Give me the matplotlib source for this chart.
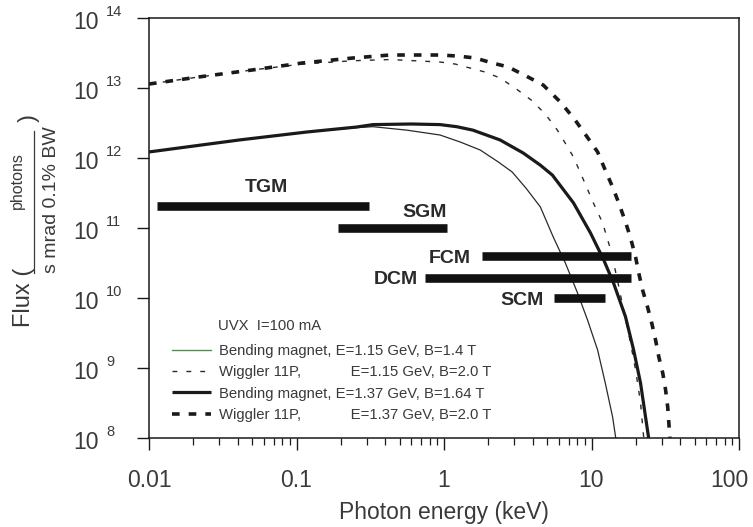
import matplotlib
matplotlib.use("Agg")
import matplotlib.pyplot as plt
import matplotlib.transforms as mtransforms
from matplotlib.lines import Line2D
from matplotlib.ticker import NullLocator, LogLocator, NullFormatter

plt.rcParams['font.family'] = ['Liberation Sans', 'DejaVu Sans']
plt.rcParams['lines.scale_dashes'] = False

# ---------------- data ----------------
# Bending magnet, E=1.15 GeV, B=1.4 T
bm115_E = [0.01, 0.041, 0.117, 0.256, 0.33, 0.56, 0.94, 1.29, 1.76, 2.33, 2.90, 3.6, 4.50,
           5.51, 6.65, 8.04, 9.40, 11.0, 12.4, 13.9, 14.6]
bm115_F = [1.22e12, 1.81e12, 2.35e12, 2.72e12, 2.8e12, 2.5e12, 2.13e12, 1.69e12, 1.3e12, 8.8e11,
           6.3e11, 3.7e11, 2.0e11, 7.4e10, 3.16e10, 1.18e10, 4.85e9, 1.81e9, 6.1e8, 2.0e8, 1.0e8]

# Wiggler 11P, E=1.15 GeV, B=2.0 T
w115_E = [0.01, 0.0219, 0.0502, 0.110, 0.24, 0.43, 0.94, 1.19, 1.50, 1.90, 2.40, 3.09, 3.91,
          4.86, 5.87, 6.76, 7.55, 8.83, 10.3, 11.9, 13.5, 15.0, 16.5, 18.4, 19.9, 21.5, 22.6]
w115_F = [1.14e13, 1.44e13, 1.81e13, 2.2e13, 2.45e13, 2.55e13, 2.35e13, 2.2e13, 1.93e13, 1.69e13,
          1.39e13, 9.7e12, 6.7e12, 4.25e12, 2.5e12, 1.53e12, 1.03e12, 4.85e11, 2.28e11, 1.18e11,
          4.85e10, 1.8e10, 6.7e9, 2.28e9, 9.4e8, 3.2e8, 1.0e8]

# Bending magnet, E=1.37 GeV, B=1.64 T
bm137_E = [0.01, 0.041, 0.117, 0.256, 0.33, 0.6, 0.94, 1.22, 1.57, 2.40, 3.44, 4.50, 5.43, 7.55,
           9.84, 12.1, 14.1, 17.0, 19.3, 21.5, 24.4]
bm137_F = [1.22e12, 1.81e12, 2.35e12, 2.77e12, 3.0e12, 3.06e12, 3.0e12, 2.8e12, 2.5e12, 1.81e12,
           1.18e12, 7.9e11, 5.7e11, 2.28e11, 8.5e10, 3.5e10, 1.64e10, 5.4e9, 1.81e9, 6.1e8, 1.0e8]

# Wiggler 11P, E=1.37 GeV, B=2.0 T
w137_E = [0.01, 0.0219, 0.0502, 0.110, 0.240, 0.43, 0.94, 1.24, 1.63, 2.12, 2.72, 3.61, 4.71,
          6.15, 7.66, 9.25, 11.0, 12.4, 13.9, 15.3, 17.0, 18.4, 19.9, 20.9, 22.2, 24.0, 25.6,
          27.2, 28.6, 30.4, 31.8, 32.9, 34.0]
w137_F = [1.14e13, 1.44e13, 1.81e13, 2.28e13, 2.68e13, 2.96e13, 2.96e13, 2.86e13, 2.68e13,
          2.28e13, 2.0e13, 1.48e13, 1.1e13, 6.3e12, 3.6e12, 2.06e12, 1.22e12, 6.7e11, 3.85e11,
          2.28e11, 1.22e11, 7.2e10, 3.85e10, 2.28e10, 1.3e10, 7.4e9, 4.4e9, 2.5e9, 1.44e9,
          8.5e8, 4.85e8, 2.7e8, 1.0e8]

# Monochromator ranges
mono_names = ["TGM", "SGM", "FCM", "DCM", "SCM"]
mono_emin = [0.0113, 0.19, 1.82, 0.74, 5.6]
mono_emax = [0.31, 1.05, 18.4, 18.4, 12.4]
mono_level = [2.06e11, 1.0e11, 4.0e10, 1.93e10, 1.0e10]

legend_labels = ["Bending magnet, E=1.15 GeV, B=1.4 T",
                 "Wiggler 11P,            E=1.15 GeV, B=2.0 T",
                 "Bending magnet, E=1.37 GeV, B=1.64 T",
                 "Wiggler 11P,            E=1.37 GeV, B=2.0 T"]
legend_title = "UVX  I=100 mA"

xtick_vals = [0.01, 0.1, 1, 10, 100]
xtick_labels = ["0.01", "0.1", "1", "10", "100"]
ytick_exps = [8, 9, 10, 11, 12, 13, 14]

# ---------------- figure ----------------
W, H = 753, 527
fig = plt.figure(figsize=(W / 100, H / 100), dpi=100)
ax = fig.add_axes([149 / W, (H - 438) / H, 590 / W, 420 / H])
ax.set_xscale('log')
ax.set_yscale('log')
ax.set_xlim(0.01, 100)
ax.set_ylim(1e8, 1e14)

ink = '#1a1a1a'
txt = '#3a3a3a'

l1, = ax.plot(bm115_E, bm115_F, color='#2a2a2a', lw=0.9)
l2, = ax.plot(w115_E, w115_F, color='#2a2a2a', lw=1.0, dashes=(3.5, 6.5))
l3, = ax.plot(bm137_E, bm137_F, color=ink, lw=2.3, solid_capstyle='butt')
l4, = ax.plot(w137_E, w137_F, color=ink, lw=2.6, dashes=(5.5, 6.5))

for name, e0, e1, lev in zip(mono_names, mono_emin, mono_emax, mono_level):
    ax.plot([e0, e1], [lev, lev], color='#111111', lw=6.2, solid_capstyle='butt')

lab_kw = dict(fontsize=14, fontweight='bold', color='#2a2a2a', textcoords='offset points')
ax.annotate("TGM", xy=(0.062, mono_level[0]), xytext=(0, 13), ha='center', va='center', **lab_kw)
ax.annotate("SGM", xy=(mono_emax[1], mono_level[1]), xytext=(0, 11), ha='right', va='center', **lab_kw)
ax.annotate("FCM", xy=(mono_emin[2], mono_level[2]), xytext=(-8.5, -2), ha='right', va='center', **lab_kw)
ax.annotate("DCM", xy=(mono_emin[3], mono_level[3]), xytext=(-5, -1), ha='right', va='center', **lab_kw)
ax.annotate("SCM", xy=(mono_emin[4], mono_level[4]), xytext=(-8, -2), ha='right', va='center', **lab_kw)

# legend
h1 = Line2D([], [], color='#4f8f4f', lw=1.0)
leg = ax.legend([h1, l2, l3, l4], legend_labels, loc='lower left',
                bbox_to_anchor=((172 - 149) / 590, (438 - 422) / 420),
                frameon=False, fontsize=10.7, handlelength=2.6, handletextpad=0.55,
                labelspacing=0.5, borderpad=0, borderaxespad=0)
for t in leg.get_texts():
    t.set_color(txt)
ax.text((218 - 149) / 590, (438 - 326) / 420, legend_title, transform=ax.transAxes,
        fontsize=10.7, color=txt, ha='left', va='center')

# axes styling
for s in ax.spines.values():
    s.set_color(ink)
    s.set_linewidth(1.1)
ax.set_xticks(xtick_vals)
ax.set_xticklabels(xtick_labels)
ax.xaxis.set_minor_locator(LogLocator(base=10, subs=range(2, 10), numticks=20))
ax.xaxis.set_minor_formatter(NullFormatter())
ax.tick_params(axis='x', which='major', direction='out', length=8.6, width=1.0, color=ink,
               labelsize=16.5, labelcolor=txt, pad=14)
ax.tick_params(axis='x', which='minor', direction='out', length=5, width=0.9, color=ink)
last = ax.get_xticklabels()[-1]
last.set_transform(last.get_transform() + mtransforms.ScaledTranslation(-10 / 100, 0, fig.dpi_scale_trans))
ax.set_yticks([10.0 ** e for e in ytick_exps])
ax.set_yticklabels([""] * len(ytick_exps))
ax.yaxis.set_minor_locator(NullLocator())
ax.tick_params(axis='y', which='major', direction='out', length=8.6, width=1.0, color=ink)

ytr = ax.get_yaxis_transform()
for e in ytick_exps:
    ax.text(0, 10.0 ** e, "10", transform=mtransforms.offset_copy(ytr, fig=fig, x=-36, y=-3.5, units='points'),
            ha='right', va='center', fontsize=16.5, color=txt)
    ax.text(0, 10.0 ** e, str(e), transform=mtransforms.offset_copy(ytr, fig=fig, x=-31, y=4.5, units='points'),
            ha='left', va='center', fontsize=10.5, color=txt)

ax.set_xlabel("Photon energy (keV)", fontsize=16.5, color=txt, labelpad=6)

# y-axis label: Flux ( photons / s mrad 0.1% BW )
def fx(px):
    return px / W

def fy(py):
    return 1 - py / H

fig.text(fx(24), fy(297), "Flux (", rotation=90, ha='center', va='center', fontsize=17, color=txt)
fig.text(fx(17), fy(181), "photons", rotation=90, ha='center', va='center', fontsize=11.5, color=txt)
fig.text(fx(52), fy(200), "s mrad 0.1% BW", rotation=90, ha='center', va='center', fontsize=14, color=txt)
fig.add_artist(Line2D([fx(34), fx(34)], [fy(131), fy(273)], transform=fig.transFigure,
                      color=txt, lw=0.9))
fig.text(fx(29), fy(118), ")", rotation=90, ha='center', va='center', fontsize=17, color=txt)

fig.savefig("out.png", dpi=100)
